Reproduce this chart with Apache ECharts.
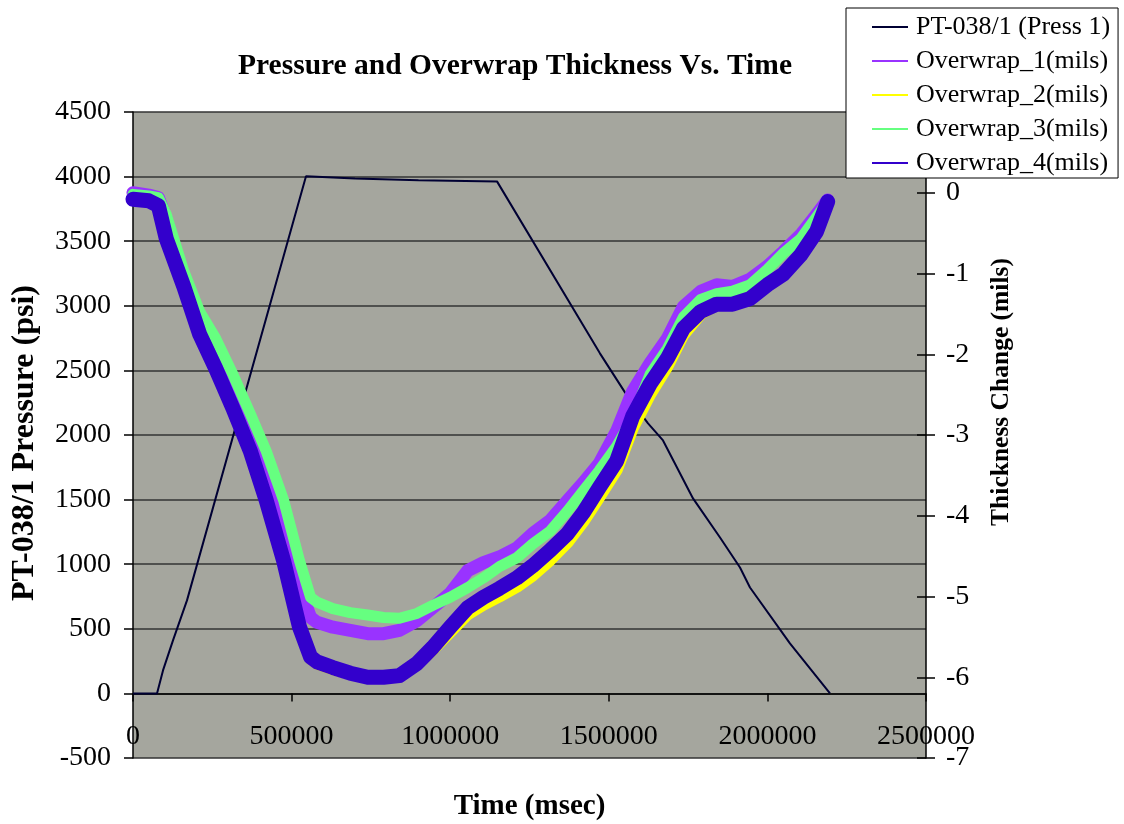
<!DOCTYPE html>
<html>
<head>
<meta charset="utf-8">
<script src="https://cdn.jsdelivr.net/npm/echarts@6/dist/echarts.min.js"></script>
<style>
html,body{margin:0;padding:0;background:#fff;}
#chart{width:1124px;height:824px;}
</style>
</head>
<body>
<div id="chart"></div>
<script>
// ---- data ----
const seriesNames = ['PT-038/1 (Press 1)', 'Overwrap_1(mils)', 'Overwrap_2(mils)', 'Overwrap_3(mils)', 'Overwrap_4(mils)'];

// Pressure trace: time (msec) and pressure (psi)
const pressTime = [0, 75700, 94600, 126100, 170200, 545400, 700000, 900000, 1147500, 1472000, 1551000, 1623600, 1670900, 1765500, 1850600, 1913600, 1945100, 2071000, 2197300];
const pressValue = [0, 0, 178, 410, 720, 4002, 3985, 3972, 3963, 2632, 2330, 2090, 1958, 1509, 1207, 975, 820, 387, 0];

// Overwrap traces: common time base (msec)
const wrapTime = [0, 50000, 80000, 105000, 160000, 210000, 260000, 315000, 370000, 420000, 475000, 525000, 560000, 580000, 630000, 685000, 740000, 790000, 840000, 895000, 945000, 1000000, 1055000, 1105000, 1155000, 1210000, 1260000, 1315000, 1370000, 1420000, 1470000, 1525000, 1575000, 1630000, 1685000, 1735000, 1790000, 1840000, 1890000, 1945000, 2000000, 2050000, 2105000, 2155000, 2190000];

const overwrap1 = [0.00, -0.03, -0.06, -0.33, -1.07, -1.59, -1.94, -2.40, -2.95, -3.48, -4.15, -4.89, -5.26, -5.32, -5.38, -5.42, -5.46, -5.46, -5.42, -5.30, -5.14, -4.96, -4.68, -4.58, -4.51, -4.40, -4.22, -4.06, -3.81, -3.59, -3.35, -2.95, -2.46, -2.11, -1.80, -1.41, -1.22, -1.14, -1.16, -1.07, -0.91, -0.73, -0.52, -0.27, -0.09];
const overwrap2 = [-0.08, -0.11, -0.17, -0.58, -1.18, -1.77, -2.19, -2.69, -3.22, -3.83, -4.58, -5.40, -5.77, -5.83, -5.90, -5.96, -6.00, -6.00, -5.98, -5.84, -5.66, -5.44, -5.22, -5.10, -5.00, -4.88, -4.74, -4.55, -4.33, -4.07, -3.77, -3.43, -2.92, -2.50, -2.15, -1.76, -1.50, -1.39, -1.38, -1.31, -1.14, -1.01, -0.77, -0.48, -0.11];
const overwrap3 = [-0.02, -0.04, -0.06, -0.27, -0.97, -1.47, -1.80, -2.25, -2.74, -3.20, -3.81, -4.56, -5.01, -5.07, -5.15, -5.20, -5.23, -5.26, -5.27, -5.21, -5.11, -5.01, -4.89, -4.77, -4.63, -4.52, -4.35, -4.19, -3.94, -3.69, -3.44, -3.14, -2.79, -2.25, -1.93, -1.54, -1.32, -1.25, -1.22, -1.14, -0.95, -0.75, -0.57, -0.30, -0.11];
const overwrap4 = [-0.08, -0.10, -0.16, -0.57, -1.16, -1.75, -2.17, -2.67, -3.20, -3.81, -4.56, -5.38, -5.75, -5.81, -5.88, -5.95, -6.00, -6.00, -5.98, -5.83, -5.63, -5.38, -5.14, -5.01, -4.90, -4.77, -4.62, -4.43, -4.22, -3.96, -3.65, -3.32, -2.77, -2.37, -2.05, -1.68, -1.47, -1.38, -1.38, -1.31, -1.14, -1.01, -0.77, -0.48, -0.11];

// ---- build ----
const pair = (xs, ys) => xs.map((x, i) => [x, ys[i]]);
const FONT = 'Liberation Serif';
const plain = v => String(v);
const chart = echarts.init(document.getElementById('chart'), null, {renderer: 'canvas'});

const wrapSeries = [
  {name: seriesNames[1], data: pair(wrapTime, overwrap1), color: '#9933ff', width: 13},
  {name: seriesNames[2], data: pair(wrapTime, overwrap2), color: '#ffff00', width: 12},
  {name: seriesNames[3], data: pair(wrapTime, overwrap3), color: '#66ff80', width: 11},
  {name: seriesNames[4], data: pair(wrapTime, overwrap4), color: '#3300cc', width: 15}
].map(s => ({
  name: s.name, type: 'line', xAxisIndex: 0, yAxisIndex: 1, data: s.data,
  symbol: 'none', showSymbol: false, smooth: false, color: s.color,
  itemStyle: {color: s.color},
  lineStyle: {color: s.color, width: s.width, join: 'round', cap: 'round'}
}));

const option = {
  backgroundColor: '#ffffff',
  animation: false,
  title: {
    text: 'Pressure and Overwrap Thickness Vs. Time',
    left: 238, top: 51, padding: 0,
    textStyle: {fontFamily: FONT, fontSize: 29.5, fontWeight: 'bold', color: '#000'}
  },
  legend: {
    orient: 'vertical', left: 846, top: 8,
    padding: [6, 8, 2, 26],
    backgroundColor: '#ffffff', borderColor: '#000', borderWidth: 1, borderRadius: 0,
    icon: 'rect', itemWidth: 36, itemHeight: 2, itemGap: 8,
    textStyle: {fontFamily: FONT, fontSize: 26, color: '#000', lineHeight: 26, height: 26, padding: [0, 0, 0, 3]},
    data: seriesNames,
    z: 10
  },
  grid: {
    left: 133, top: 112, width: 793, height: 646,
    outerBoundsMode: 'none', containLabel: false,
    show: true, backgroundColor: '#a5a69e', borderWidth: 0
  },
  xAxis: {
    type: 'value', min: 0, max: 2500000, interval: 500000,
    axisLine: {show: true, onZero: true, onZeroAxisIndex: 0, lineStyle: {color: '#000', width: 1.5}},
    axisTick: {show: true, length: 8, lineStyle: {color: '#000', width: 1.5}},
    axisLabel: {fontFamily: FONT, fontSize: 28, color: '#000', margin: -35, formatter: plain},
    splitLine: {show: false},
    name: 'Time (msec)', nameLocation: 'middle', nameGap: 34,
    nameTextStyle: {fontFamily: FONT, fontSize: 29, fontWeight: 'bold', color: '#000'}
  },
  yAxis: [
    {
      type: 'value', min: -500, max: 4500, interval: 500, position: 'left',
      axisLine: {show: true, lineStyle: {color: '#000', width: 1.5}},
      axisTick: {show: true, length: 9, lineStyle: {color: '#000', width: 1.5}},
      axisLabel: {fontFamily: FONT, fontSize: 28, color: '#000', margin: 22, formatter: plain},
      splitLine: {show: true, lineStyle: {color: '#333', width: 1.5}},
      name: 'PT-038/1 Pressure (psi)', nameLocation: 'middle', nameRotate: 90, nameGap: 92,
      nameTextStyle: {fontFamily: FONT, fontSize: 32, fontWeight: 'bold', color: '#000', padding: [0, 16, 0, 0]}
    },
    {
      type: 'value', min: -7, max: 1, interval: 1, position: 'right',
      axisLine: {show: true, lineStyle: {color: '#000', width: 1.5}},
      axisTick: {show: true, length: 9, lineStyle: {color: '#000', width: 1.5}},
      axisLabel: {fontFamily: FONT, fontSize: 28, color: '#000', margin: 20, formatter: plain},
      splitLine: {show: false},
      name: 'Thickness Change (mils)', nameLocation: 'middle', nameRotate: 90, nameGap: 62,
      nameTextStyle: {fontFamily: FONT, fontSize: 25.5, fontWeight: 'bold', color: '#000', padding: [0, 0, 0, 86]}
    },
    {
      type: 'value', min: -7, max: 1, interval: 1, position: 'right',
      axisLine: {show: false},
      axisTick: {show: true, inside: true, length: 9, lineStyle: {color: '#000', width: 1.5}},
      axisLabel: {show: false},
      splitLine: {show: false}
    }
  ],
  series: [
    {
      name: seriesNames[0], type: 'line', xAxisIndex: 0, yAxisIndex: 0,
      data: pair(pressTime, pressValue), symbol: 'none', showSymbol: false, color: '#000033',
      itemStyle: {color: '#000033'},
      lineStyle: {color: '#000033', width: 2}
    }
  ].concat(wrapSeries)
};
chart.setOption(option);
</script>
</body>
</html>
